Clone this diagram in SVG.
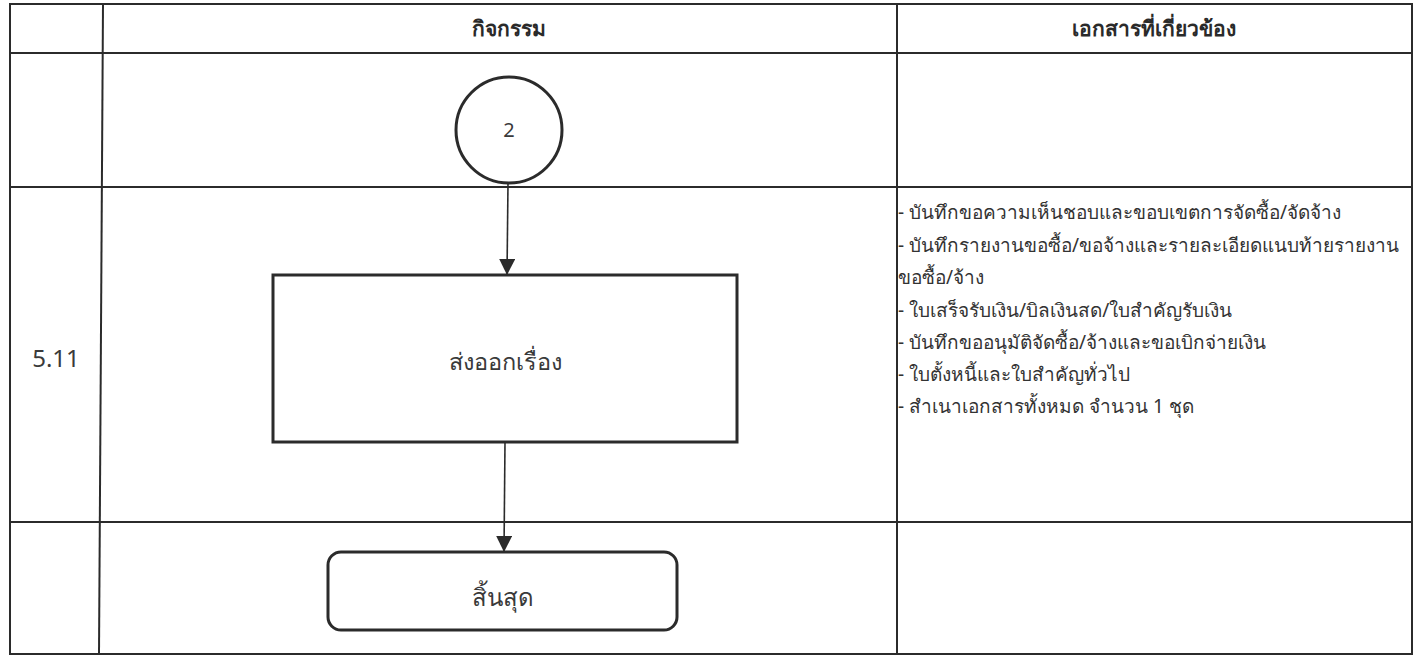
<svg xmlns="http://www.w3.org/2000/svg" width="1415" height="658" viewBox="0 0 1415 658">
<style>
.grid{stroke:#2b2b2b;stroke-width:2;fill:none}
.shape{stroke:#2b2b2b;stroke-width:3;fill:#fff}
.conn{stroke:#2b2b2b;stroke-width:1.6;fill:none}
.t{font-family:"Noto Sans","DejaVu Sans","Liberation Sans",sans-serif;fill:#3a3a3a}
.hd{font-size:21px;font-weight:bold;fill:#2a2a2a}
.doc{font-size:19px;fill:#333}
</style>
<defs>
<marker id="ah2" viewBox="0 0 16 16" refX="16" refY="8" markerWidth="16" markerHeight="16" markerUnits="userSpaceOnUse" orient="auto">
<path d="M0,0 L16,8 L0,16 z" fill="#2b2b2b"/>
</marker>
</defs>
<rect width="1415" height="658" fill="#fff"/>
<g id="table">
<rect class="grid" x="10" y="4" width="1402" height="650"/>
<line class="grid" x1="103" y1="4" x2="99" y2="654"/>
<line class="grid" x1="897" y1="4" x2="897" y2="654"/>
<line class="grid" x1="10" y1="53" x2="1412" y2="53"/>
<line class="grid" x1="10" y1="187" x2="1412" y2="187"/>
<line class="grid" x1="10" y1="522" x2="1412" y2="522"/>
<text class="t hd" x="509" y="36" text-anchor="middle">กิจกรรม</text>
<text class="t hd" x="1154" y="36" text-anchor="middle">เอกสารที่เกี่ยวข้อง</text>
<text class="t" x="56" y="367" font-size="24" text-anchor="middle">5.11</text>
</g>
<g id="connectors">
<line class="conn" x1="508" y1="183" x2="507" y2="275" marker-end="url(#ah2)"/>
<line class="conn" x1="505" y1="442" x2="504" y2="552" marker-end="url(#ah2)"/>
</g>
<g id="node-connector-2">
<circle class="shape" cx="509" cy="130" r="53"/>
<text class="t" x="509" y="137" font-size="20" text-anchor="middle">2</text>
</g>
<g id="node-send">
<rect class="shape" x="273" y="275" width="464" height="167"/>
<text class="t" x="505" y="370" font-size="23.5" text-anchor="middle">ส่งออกเรื่อง</text>
</g>
<g id="node-end">
<rect class="shape" x="328" y="552" width="349" height="78" rx="13" ry="13"/>
<text class="t" x="503" y="606" font-size="24" text-anchor="middle">สิ้นสุด</text>
</g>
<g id="docs">
<text class="t doc" x="898" y="219">- บันทึกขอความเห็นชอบและขอบเขตการจัดซื้อ/จัดจ้าง</text>
<text class="t doc" x="898" y="252">- บันทึกรายงานขอซื้อ/ขอจ้างและรายละเอียดแนบท้ายรายงาน</text>
<text class="t doc" x="898" y="284">ขอซื้อ/จ้าง</text>
<text class="t doc" x="898" y="317">- ใบเสร็จรับเงิน/บิลเงินสด/ใบสำคัญรับเงิน</text>
<text class="t doc" x="898" y="349">- บันทึกขออนุมัติจัดซื้อ/จ้างและขอเบิกจ่ายเงิน</text>
<text class="t doc" x="898" y="381">- ใบตั้งหนี้และใบสำคัญทั่วไป</text>
<text class="t doc" x="898" y="413">- สำเนาเอกสารทั้งหมด จำนวน 1 ชุด</text>
</g>
</svg>
